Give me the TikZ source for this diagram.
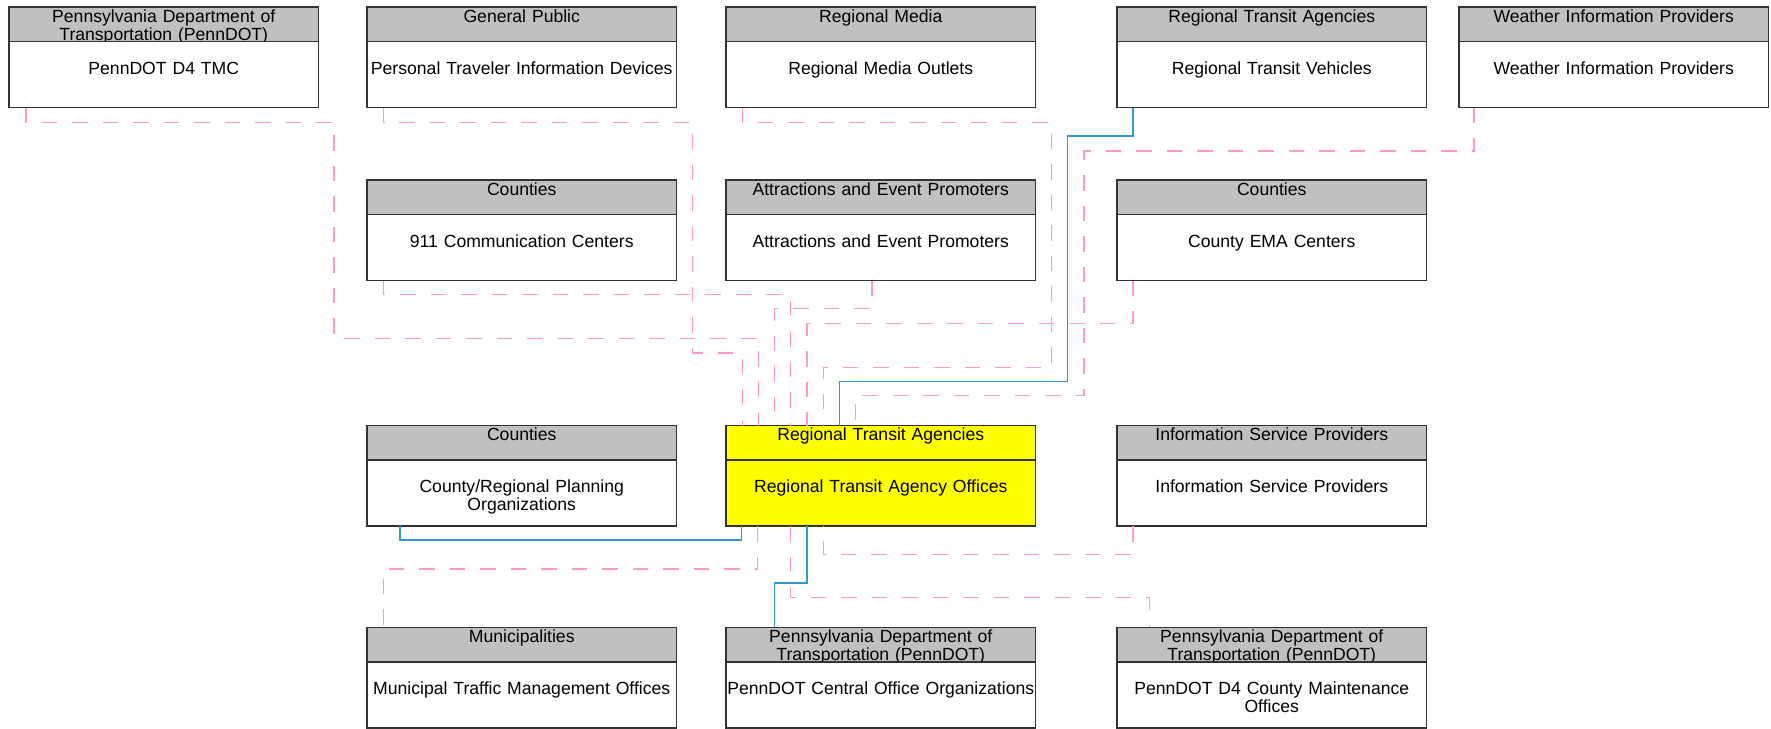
\documentclass[tikz,border=0pt]{standalone}
\usepackage{fontspec}
\setmainfont{Liberation Sans}
\usetikzlibrary{positioning}
\definecolor{hdrgray}{RGB}{192,192,192}
\definecolor{hilite}{RGB}{255,255,0}
\definecolor{flowpink}{RGB}{255,153,204}
\definecolor{flowblue}{RGB}{51,153,204}

\begin{document}
\begin{tikzpicture}[x=0.5pt, y=-0.5pt, font=\fontsize{8.8pt}{9pt}\selectfont]
        \tikzset{hd/.style={draw=black!80, fill=hdrgray, line width=0.7pt,
                 minimum width=154.75pt, minimum height=17.25pt, text width=154.75pt,
                 align=center, inner sep=0pt, outer sep=0pt, anchor=north west,
                 text height=7.6pt, text depth=9.65pt},
                 bd/.style={draw=black!80, fill=white, line width=0.7pt,
                 minimum width=154.75pt, minimum height=33pt, text width=154.75pt,
                 align=center, inner sep=0pt, outer sep=0pt,
                 text height=16.3pt, text depth=16.7pt},
                 flow/.style={flowpink, line width=0.65pt, dash pattern=on 7.75pt off 7.5pt},
                 link/.style={flowblue, line width=0.75pt}}
        \useasboundingbox (0,0) rectangle (1771,728);
        %% Fila superior
        \node[hd] (tmc-h) at (9,7) {Pennsylvania Department of\\Transportation (PennDOT)};
        \node[bd, below=0pt of tmc-h] (tmc) {PennDOT D4 TMC};
        \node[hd] (ptid-h) at (367,7) {General Public};
        \node[bd, below=0pt of ptid-h] (ptid) {Personal Traveler Information Devices};
        \node[hd] (rmo-h) at (726,7) {Regional Media};
        \node[bd, below=0pt of rmo-h] (rmo) {Regional Media Outlets};
        \node[hd] (rtv-h) at (1117,7) {Regional Transit Agencies};
        \node[bd, below=0pt of rtv-h] (rtv) {Regional Transit Vehicles};
        \node[hd] (wip-h) at (1459,7) {Weather Information Providers};
        \node[bd, below=0pt of wip-h] (wip) {Weather Information Providers};
        %% Segunda fila
        \node[hd] (ecc-h) at (367,180) {Counties};
        \node[bd, below=0pt of ecc-h] (ecc) {911 Communication Centers};
        \node[hd] (aep-h) at (726,180) {Attractions and Event Promoters};
        \node[bd, below=0pt of aep-h] (aep) {Attractions and Event Promoters};
        \node[hd] (ema-h) at (1117,180) {Counties};
        \node[bd, below=0pt of ema-h] (ema) {County EMA Centers};
        %% Fila central (elemento principal en amarillo)
        \node[hd] (crpo-h) at (367,425.5) {Counties};
        \node[bd, below=0pt of crpo-h] (crpo) {County/Regional Planning\\Organizations};
        \node[hd, fill=hilite] (rtao-h) at (726,425.5) {Regional Transit Agencies};
        \node[bd, fill=hilite, below=0pt of rtao-h] (rtao) {Regional Transit Agency Offices};
        \node[hd] (isp-h) at (1117,425.5) {Information Service Providers};
        \node[bd, below=0pt of isp-h] (isp) {Information Service Providers};
        %% Fila inferior
        \node[hd] (mtmo-h) at (367,627.3) {Municipalities};
        \node[bd, below=0pt of mtmo-h] (mtmo) {Municipal Traffic Management Offices};
        \node[hd] (pcoo-h) at (726,627.3) {Pennsylvania Department of\\Transportation (PennDOT)};
        \node[bd, below=0pt of pcoo-h] (pcoo) {PennDOT Central Office Organizations};
        \node[hd] (cmo-h) at (1117,627.3) {Pennsylvania Department of\\Transportation (PennDOT)};
        \node[bd, below=0pt of cmo-h] (cmo) {PennDOT D4 County Maintenance\\Offices};
        %% Flujos hacia arriba (entran por el lado superior)
        \draw[flow] ([xshift=8.5pt]tmc.south west) -- ++(0,15) -| (334,338.5) -| ([xshift=16.2pt]rtao-h.north west);
        \draw[flow] ([xshift=8.25pt]ptid.south west) -- ++(0,15) -| (692.5,353) -| ([xshift=8.1pt]rtao-h.north west);
        \draw[flow] ([xshift=8.15pt]rmo.south west) -- ++(0,15) -| (1051.5,367.3) -| ([xshift=48.6pt]rtao-h.north west);
        \draw[link] ([xshift=8pt]rtv.south west) -- ++(0,28.5) -| (1067.7,381.7) -| ([xshift=56.7pt]rtao-h.north west);
        \draw[flow] ([xshift=7.5pt]wip.south west) -- ++(0,43.5) -| (1084,395.7) -| ([xshift=64.8pt]rtao-h.north west);
        \draw[flow] ([xshift=8.4pt]ecc.south west) -- ++(0,14) -| ([xshift=32.4pt]rtao-h.north west);
        \draw[flow] ([xshift=73pt]aep.south west) -- ++(0,28.3) -| ([xshift=24.3pt]rtao-h.north west);
        \draw[flow] ([xshift=8pt]ema.south west) -- ++(0,43) -| ([xshift=40.5pt]rtao-h.north west);
        %% Flujos hacia abajo (salen por el lado inferior)
        \draw[link] ([xshift=16.5pt]crpo.south west) -- ++(0,14) -| ([xshift=7.85pt]rtao.south west);
        \draw[flow] ([xshift=15.75pt]rtao.south west) -- ++(0,43) -| ([xshift=8.15pt]mtmo-h.north west);
        \draw[link] ([xshift=40.5pt]rtao.south west) -- ++(0,57.2) -| ([xshift=24.25pt]pcoo-h.north west);
        \draw[flow] ([xshift=32.4pt]rtao.south west) -- ++(0,71.8) -| ([xshift=16.3pt]cmo-h.north west);
        \draw[flow] ([xshift=8pt]isp.south west) -- ++(0,28.2) -| ([xshift=48.6pt]rtao.south west);
    \end{tikzpicture}
\end{document}
